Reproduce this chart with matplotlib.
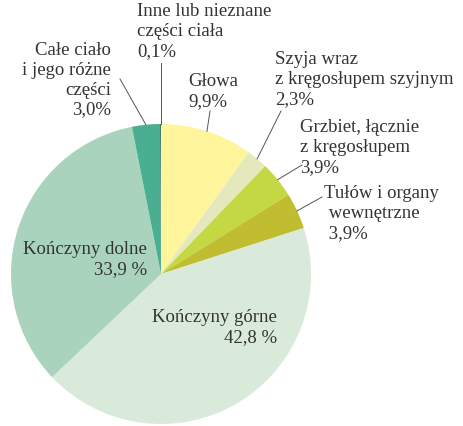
import numpy as np
import matplotlib
matplotlib.use("Agg")
import matplotlib.pyplot as plt

plt.rcParams['font.family'] = ['Liberation Serif', 'DejaVu Serif']

# dane: udział wypadków wg części ciała (%)
labels = ["Głowa\n9,9%",
          "Szyja wraz\nz kręgosłupem szyjnym\n2,3%",
          "Grzbiet, łącznie\nz kręgosłupem\n3,9%",
          "Tułów i organy\n wewnętrzne\n 3,9%",
          "Kończyny górne\n42,8 %",
          "Kończyny dolne\n33,9 %",
          "Całe ciało\ni jego różne\nczęści\n3,0%",
          "Inne lub nieznane\nczęści ciała\n0,1%"]
values = [9.9, 2.3, 3.9, 3.9, 42.8, 33.9, 3.0, 0.1]
colors = ["#fff59c", "#e4e9bd", "#c4d843", "#c0bd31",
          "#d9eada", "#a9d3bc", "#4aae91", "#2f6e5c"]

W, H = 464, 427
fig = plt.figure(figsize=(W / 100, H / 100), dpi=100)
ax = fig.add_axes([0, 0, 1, 1])

cx, cy, r = 161, H - 275, 150
wedges, _ = ax.pie(values, colors=colors, startangle=90, counterclock=False,
                   center=(cx, cy), radius=r, frame=True,
                   wedgeprops=dict(linewidth=0))
ax.set_xlim(0, W)
ax.set_ylim(0, H)
ax.set_aspect('equal')
ax.axis('off')

txt = dict(fontsize=13.5, color="#333333", linespacing=1.22, va='top')

def py(y):
    return H - y

# pozycje etykiet (róg tekstu w pikselach) + początek linii odniesienia
label_pos = [
    (0, 188, 73, 'left', (210, 112)),
    (1, 275, 51, 'left', (281, 112)),
    (2, 300, 119, 'left', (302, 166)),
    (3, 324, 185, 'left', (322, 198)),
    (4, 277, 309, 'right', None),
    (5, 147, 241, 'right', None),
    (6, 111, 42, 'right', (120, 80)),
    (7, 137, 3, 'left', (161, 64)),
]

for i, x, y, ha, lp in label_pos:
    ax.text(x, py(y), labels[i], ha=ha, multialignment=ha, **txt)
    if lp is not None:
        w = wedges[i]
        th = np.deg2rad((w.theta1 + w.theta2) / 2)
        if i == 7:
            th = np.deg2rad(90)
        ex, ey = cx + r * np.cos(th), cy + r * np.sin(th)
        ax.plot([lp[0], ex], [py(lp[1]), ey], color="#555555", lw=0.7)

fig.savefig("out.png", dpi=100)
